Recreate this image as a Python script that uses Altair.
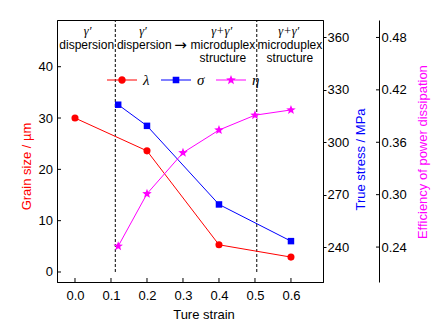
import math
import altair as alt
import pandas as pd

# ---------------- data ----------------
strain_lambda = [0.0, 0.2, 0.4, 0.6]
grain_size = [30.0, 23.6, 5.3, 2.9]

strain_sigma = [0.12, 0.2, 0.4, 0.6]
true_stress = [321.5, 309.4, 264.4, 243.4]

strain_eta = [0.12, 0.2, 0.3, 0.4, 0.5, 0.6]
efficiency = [0.241, 0.301, 0.348, 0.374, 0.391, 0.397]

boundary_strain = [0.112, 0.505]

x_ticks = [0.0, 0.1, 0.2, 0.3, 0.4, 0.5, 0.6]
grain_ticks = [0, 10, 20, 30, 40]
stress_ticks = [240, 270, 300, 330, 360]
eta_ticks = [0.24, 0.30, 0.36, 0.42, 0.48]

greek_text = ["γ′", "γ′", "γ+γ′", "γ+γ′"]
greek_x = [0.035, 0.189, 0.4075, 0.594]
greek_y = [46.9, 46.9, 46.9, 46.9]

word_text = ["dispersion", "dispersion", "microduplex", "structure", "microduplex", "structure"]
word_x = [0.0325, 0.1925, 0.411, 0.411, 0.597, 0.597]
word_y = [44.3, 44.3, 44.3, 41.7, 44.3, 41.7]

arrow_text = ["→"]
arrow_x = [0.293]
arrow_y = [44.3]

legend_series = ["λ", "σ", "η"]

# ---------------- styles ----------------
RED, BLUE, MAG = "#ff0000", "#0000ff", "#ff00ff"
FONT = "Liberation Sans"
W, H = 266, 262


def circle_path(r):
    return f"M{-r},0A{r},{r},0,1,1,{r},0A{r},{r},0,1,1,{-r},0Z"


def square_path(s):
    return f"M{-s},{-s}H{s}V{s}H{-s}Z"


def star_path(R, r):
    pts = []
    for i in range(10):
        rad = R if i % 2 == 0 else r
        a = -math.pi / 2 + i * math.pi / 5
        pts.append(f"{rad * math.cos(a):.3f},{rad * math.sin(a):.3f}")
    return "M" + "L".join(pts) + "Z"


STAR = star_path(1, 0.42)
line_rect = "M-1,-0.035H1V0.035H-1Z"
legend_paths = [
    line_rect + circle_path(0.25),
    line_rect + square_path(0.22),
    line_rect + star_path(0.34, 0.143),
]

xscale = alt.Scale(domain=[-0.05, 0.689], nice=False, zero=False)
xaxis = alt.Axis(values=x_ticks, format=".1f", ticks=False, labelPadding=7,
                 title="Ture strain", titleX=146.5, titleY=36,
                 titleBaseline="alphabetic", titleAlign="center", grid=False)


def X(field):
    return alt.X(f"{field}:Q", scale=xscale, axis=xaxis)


gscale = alt.Scale(domain=[-1.95, 49.1], nice=False, zero=False)
gaxis = alt.Axis(orient="left", values=grain_ticks, ticks=False, labelPadding=4.5,
                 title="Grain size / µm", titleColor=RED, titleX=-27, titleY=146,
                 titleAngle=270, titleBaseline="alphabetic", titleAlign="center", grid=False)

sscale = alt.Scale(domain=[220, 370], nice=False, zero=False)
saxis = alt.Axis(orient="right", values=stress_ticks, tickSize=3, labelPadding=1,
                 title="True stress / MPa", titleColor=BLUE, titleX=41, titleY=139,
                 titleAngle=270, titleBaseline="alphabetic", titleAlign="center", grid=False)

escale = alt.Scale(domain=[0.20, 0.50], nice=False, zero=False)
eaxis = alt.Axis(orient="right", offset=56, values=eta_ticks, format=".2f", ticks=False,
                 labelPadding=2, title="Efficiency of power dissipation", titleColor=MAG,
                 titleX=47, titleY=131.6, titleAngle=270, titleBaseline="alphabetic",
                 titleAlign="center", grid=False)


def G(field):
    return alt.Y(f"{field}:Q", scale=gscale, axis=gaxis)


def S(field):
    return alt.Y(f"{field}:Q", scale=sscale, axis=saxis)


def E(field):
    return alt.Y(f"{field}:Q", scale=escale, axis=eaxis)


# ---------------- lambda group (left axis) ----------------
df_l = pd.DataFrame({"strain": strain_lambda, "grain": grain_size})
df_b = pd.DataFrame({"strain": boundary_strain, "base": [0] * len(boundary_strain)})
df_gt = pd.DataFrame({"gt": grain_ticks})
df_xt = pd.DataFrame({"xt": x_ticks})
df_greek = pd.DataFrame({"x": greek_x, "y": greek_y, "t": greek_text})
df_word = pd.DataFrame({"x": word_x, "y": word_y, "t": word_text})
df_arrow = pd.DataFrame({"x": arrow_x, "y": arrow_y, "t": arrow_text})
df_leg = pd.DataFrame({"series": legend_series, "x": [-1.0] * 3, "y": [0.0] * 3})

boundaries = alt.Chart(df_b).mark_rule(color="black", strokeWidth=1, strokeDash=[3, 2]).encode(
    x=X("strain"), y=G("base"), y2=alt.value(0))
gticks = alt.Chart(df_gt).mark_rule(color="black", strokeWidth=1).encode(
    y=G("gt"), x=alt.value(0), x2=alt.value(4))
xticks = alt.Chart(df_xt).mark_rule(color="black", strokeWidth=1).encode(
    x=X("xt"), y=alt.value(H), y2=alt.value(H - 4))
greek = alt.Chart(df_greek).mark_text(font="Liberation Serif", fontStyle="italic", fontSize=12.5,
                                      baseline="middle", align="center", color="black").encode(
    x=X("x"), y=G("y"), text="t:N")
words = alt.Chart(df_word).mark_text(font=FONT, fontSize=12, baseline="middle", align="center",
                                     color="black").encode(x=X("x"), y=G("y"), text="t:N")
arrow = alt.Chart(df_arrow).mark_text(font="DejaVu Sans", fontSize=15, baseline="middle", align="center",
                                      color="black").encode(x=X("x"), y=G("y"), text="t:N")
l_line = alt.Chart(df_l).mark_line(color=RED, strokeWidth=1).encode(x=X("strain"), y=G("grain"))
l_pts = alt.Chart(df_l).mark_point(filled=True, shape="circle", size=50, color=RED, opacity=1).encode(
    x=X("strain"), y=G("grain"))
legend = alt.Chart(df_leg).mark_point(filled=True, opacity=1, clip=True, size=900).encode(
    x=X("x"), y=G("y"),
    color=alt.Color("series:N", scale=alt.Scale(domain=legend_series, range=[RED, BLUE, MAG]),
                    legend=alt.Legend(orient="none", legendX=50, legendY=45, direction="horizontal",
                                      title=None, symbolSize=900, labelOffset=6, columnPadding=11,
                                      padding=0, labelFont="Liberation Serif", labelFontStyle="italic",
                                      labelFontSize=15, symbolStrokeWidth=0, symbolOpacity=1)),
    shape=alt.Shape("series:N", scale=alt.Scale(domain=legend_series, range=legend_paths)),
)
lam_group = alt.layer(boundaries, gticks, xticks, greek, words, arrow, l_line, l_pts, legend)

# ---------------- sigma group ----------------
df_s = pd.DataFrame({"strain": strain_sigma, "stress": true_stress})
s_line = alt.Chart(df_s).mark_line(color=BLUE, strokeWidth=1).encode(x=X("strain"), y=S("stress"))
s_pts = alt.Chart(df_s).mark_point(filled=True, shape="square", size=42, color=BLUE, opacity=1).encode(
    x=X("strain"), y=S("stress"))
sig_group = alt.layer(s_line, s_pts)

# ---------------- eta group ----------------
df_e = pd.DataFrame({"strain": strain_eta, "eff": efficiency})
df_et = pd.DataFrame({"et": eta_ticks})
e_line = alt.Chart(df_e).mark_line(color=MAG, strokeWidth=1).encode(x=X("strain"), y=E("eff"))
e_pts = alt.Chart(df_e).mark_point(filled=True, shape=STAR, size=100, color=MAG, opacity=1).encode(
    x=X("strain"), y=E("eff"))
e_ticks = alt.Chart(df_et).mark_rule(color="black", strokeWidth=1).encode(
    y=E("et"), x=alt.value(W + 53), x2=alt.value(W + 56))
eta_group = alt.layer(e_ticks, e_line, e_pts)

chart = alt.layer(lam_group, sig_group, eta_group).resolve_scale(y="independent").properties(
    width=W, height=H,
    autosize=alt.AutoSizeParams(type="none"),
    padding={"left": 57, "top": 20, "right": 444 - 57 - W, "bottom": 326 - 20 - H},
    background="white",
).configure_view(stroke="black", strokeWidth=1).configure_axis(
    labelFont=FONT, titleFont=FONT, labelFontSize=13, titleFontSize=13, titleFontWeight="normal",
    labelColor="black", domainColor="black", tickColor="black", domainWidth=1,
).configure_legend(labelColor="black")

chart.save("out.html", embed_options={"renderer": "svg", "actions": False})
